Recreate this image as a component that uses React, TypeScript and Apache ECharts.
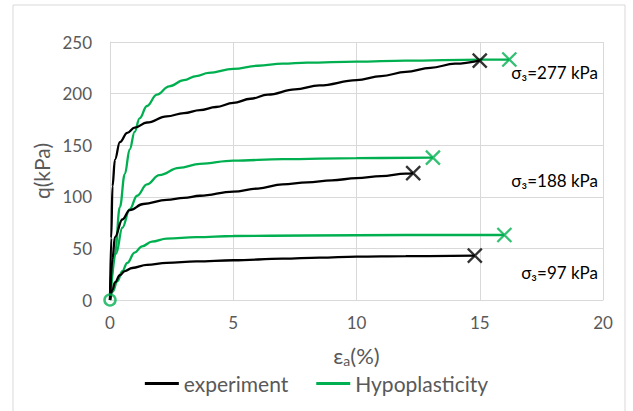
import React, { useEffect, useRef } from "react";
import * as echarts from "echarts";

// ---- data (εa %, q kPa) ----
const exp277: [number, number][] = [
  [0, 0], [0.05, 60], [0.1, 110], [0.2, 136], [0.4, 153], [0.7, 162], [1, 167],
  [1.5, 172], [2.3, 178], [3, 181], [3.65, 184], [4.3, 187], [5, 191], [5.7, 195],
  [6.4, 199], [7.5, 204], [8.5, 208], [10, 213], [11, 217], [12, 221], [13, 225],
  [14, 229], [15, 232],
];
const exp188: [number, number][] = [
  [0, 0], [0.1, 40], [0.2, 61], [0.5, 78], [0.8, 87], [1.35, 93], [2.3, 97],
  [3, 99], [3.65, 101], [5, 105], [6, 108], [7, 112], [8, 114], [9, 116], [10, 118],
  [11, 120], [12, 122.5], [12.3, 123],
];
const exp97: [number, number][] = [
  [0, 0], [0.1, 10], [0.2, 17], [0.4, 24], [0.6, 28], [0.9, 31], [1.5, 34],
  [2.3, 36], [3.5, 37.5], [5, 38.5], [7, 40], [8.5, 41], [10, 42], [12, 42.5],
  [14.8, 43],
];
const hyp277: [number, number][] = [
  [0, 0], [0.2, 45], [0.4, 90], [0.6, 122], [0.8, 146], [1, 163], [1.2, 176],
  [1.5, 188], [1.9, 199], [2.4, 207], [3, 213], [3.5, 217], [4, 220], [5, 224],
  [6, 227], [7, 229], [8, 230], [10, 231], [12, 232], [15, 233], [16.2, 233],
];
const hyp188: [number, number][] = [
  [0, 0], [0.25, 45], [0.5, 70], [0.8, 88], [1.1, 101], [1.5, 112], [2, 121],
  [2.8, 128], [3.65, 132], [5, 135], [7, 136.5], [10, 137.5], [13.1, 138],
];
const hyp97: [number, number][] = [
  [0, 0], [0.1, 8], [0.3, 18], [0.5, 28], [0.7, 36], [1, 46], [1.3, 52],
  [1.7, 56.5], [2.3, 59.5], [3.5, 61], [5, 62], [8, 62.5], [12, 63], [16, 63],
];
const expFailure: [number, number][] = [[15, 232], [12.3, 123], [14.8, 43]];
const hypFailure: [number, number][] = [[16.2, 233], [13.1, 138], [16.0, 63]];
const origin: [number, number][] = [[0, 0]];
const stressLabels = ["σ₃=277 kPa", "σ₃=188 kPa", "σ₃=97 kPa"];
const labelY = [75, 183, 275];

const BLACK = "#000000";
const GREEN = "#00B050";
const GRAY = "#595959";
const FONT = "Lato";
const CROSS = "path://M0,0L10,10M10,0L0,10";

export default function App() {
  const ref = useRef<HTMLDivElement>(null);
  useEffect(() => {
    document.body.style.margin = "0";
    const chart = echarts.init(ref.current!, null, { renderer: "svg" });
    const lineSeries = (name: string, data: [number, number][], color: string) => ({
      type: "line",
      name,
      data,
      showSymbol: false,
      symbol: "none",
      smooth: 0.4,
      smoothMonotone: "x",
      lineStyle: { color, width: 2.3 },
      itemStyle: { color },
      z: color === BLACK ? 3 : 2,
    });
    chart.setOption({
      animation: false,
      textStyle: { fontFamily: FONT },
      grid: { left: 110, right: 30, top: 42, bottom: 111 },
      legend: {
        data: [
          { name: "experiment", icon: "rect" },
          { name: "Hypoplasticity", icon: "rect" },
        ],
        top: 368,
        left: "center",
        itemWidth: 34,
        itemHeight: 3,
        itemGap: 28,
        textStyle: { color: GRAY, fontSize: 21, fontFamily: FONT },
      },
      xAxis: {
        type: "value",
        min: 0,
        max: 20,
        interval: 5,
        name: "{e|ε}{s|a}{e|(%)}",
        nameLocation: "middle",
        nameGap: 43,
        nameTextStyle: {
          rich: {
            e: { fontSize: 22, color: GRAY, fontFamily: FONT },
            s: { fontSize: 14, color: GRAY, fontFamily: FONT, padding: [10, 0, 0, 0] },
          },
        },
        axisLine: { show: true, lineStyle: { color: "#d9d9d9" } },
        axisTick: { show: false },
        axisLabel: { color: GRAY, fontSize: 17, margin: 14, fontFamily: FONT },
        splitLine: { show: true, lineStyle: { color: "#d9d9d9" } },
      },
      yAxis: {
        type: "value",
        min: 0,
        max: 250,
        interval: 50,
        name: "q(kPa)",
        nameLocation: "middle",
        nameGap: 55,
        nameTextStyle: { color: GRAY, fontSize: 21, fontFamily: FONT },
        axisLine: { show: true, lineStyle: { color: "#d9d9d9" } },
        axisTick: { show: false },
        axisLabel: { color: GRAY, fontSize: 17, margin: 18, fontFamily: FONT },
        splitLine: { show: true, lineStyle: { color: "#d9d9d9" } },
      },
      graphic: [
        {
          type: "rect",
          shape: { x: 13, y: 5, width: 612, height: 420 },
          style: { fill: "none", stroke: "#d9d9d9", lineWidth: 1 },
          silent: true,
          z: -10,
        },
        ...stressLabels.map((t, i) => ({
          type: "text",
          right: 35,
          top: labelY[i] - 11,
          style: { text: t, fill: "#000", fontSize: 17, fontFamily: FONT },
          z: 10,
        })),
      ],
      series: [
        lineSeries("experiment", exp277, BLACK),
        lineSeries("experiment", exp188, BLACK),
        lineSeries("experiment", exp97, BLACK),
        lineSeries("Hypoplasticity", hyp277, GREEN),
        lineSeries("Hypoplasticity", hyp188, GREEN),
        lineSeries("Hypoplasticity", hyp97, GREEN),
        {
          type: "scatter",
          name: "expFail",
          data: expFailure,
          symbol: CROSS,
          symbolSize: 14,
          clip: false,
          itemStyle: { color: "none", borderColor: BLACK, borderWidth: 2.3 },
          z: 5,
        },
        {
          type: "scatter",
          name: "hypFail",
          data: hypFailure,
          symbol: CROSS,
          symbolSize: 14,
          clip: false,
          itemStyle: { color: "none", borderColor: GREEN, borderWidth: 2.3 },
          z: 5,
        },
        {
          type: "scatter",
          name: "origin",
          data: origin,
          symbol: "circle",
          symbolSize: 11,
          clip: false,
          itemStyle: { color: "none", borderColor: GREEN, borderWidth: 2.5 },
          z: 6,
        },
      ],
    });
    return () => chart.dispose();
  }, []);
  return <div ref={ref} style={{ width: 633, height: 411 }} />;
}
